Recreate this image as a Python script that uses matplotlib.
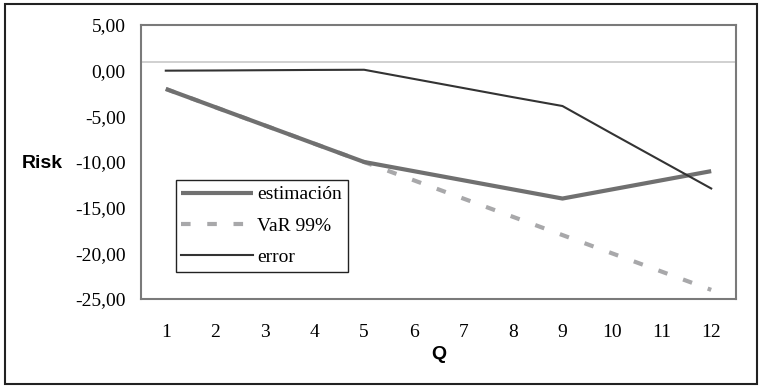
import matplotlib
matplotlib.use("Agg")
import matplotlib.pyplot as plt
from matplotlib.patches import Rectangle

# Data
Q = [1, 2, 3, 4, 5, 6, 7, 8, 9, 10, 11, 12]
estimacion = [-2, -4, -6, -8, -10, -11, -12, -13, -14, -13, -12, -11]
var99 = [-2, -4, -6, -8, -10, -12, -14, -16, -18, -20, -22, -24]
error = [0.0, 0.02, 0.05, 0.08, 0.1, -0.9, -1.9, -2.9, -3.87, -6.9, -9.9, -12.9]
yticks = [5, 0, -5, -10, -15, -20, -25]
ref_line = 1.0

W, H = 759, 386
fig = plt.figure(figsize=(W / 100, H / 100), dpi=100)
ax = fig.add_axes([141 / W, 1 - 299 / H, (736 - 141) / W, (299 - 25) / H])

serif = "Liberation Serif"
sans = "Liberation Sans"
fs = 14

ax.axhline(ref_line, color="#c8c8c8", lw=1.2, zorder=1)
ax.plot(Q, estimacion, color="#707070", lw=3.0, solid_capstyle="butt", label="estimación", zorder=3)
ax.plot(Q, var99, color="#a8a8aa", lw=3.0, dashes=(2.3, 4.0), label="VaR 99%", zorder=2)
ax.plot(Q, error, color="#333333", lw=1.5, label="error", zorder=4)

ax.set_xlim(0.5, 12.5)
ax.set_ylim(-25, 5)
ax.set_xticks(Q)
ax.set_xticklabels([str(q) for q in Q], fontfamily=serif, fontsize=fs)
ax.set_yticks(yticks)
ax.set_yticklabels([f"{v:.2f}".replace(".", ",") for v in yticks], fontfamily=serif, fontsize=fs)
ax.tick_params(axis="both", length=0)
ax.tick_params(axis="y", pad=11)
ax.tick_params(axis="x", pad=18)

for s in ax.spines.values():
    s.set_color("#7a7a7a")
    s.set_linewidth(1.5)

ax.set_ylabel("Risk", rotation=0, fontfamily=sans, fontweight="bold", fontsize=fs, ha="center", va="center")
ax.yaxis.set_label_coords(-0.166, 0.493)
ax.set_xlabel("Q", fontfamily=sans, fontweight="bold", fontsize=fs, ha="center", va="center")
ax.xaxis.set_label_coords(0.5, -0.204)

leg = ax.legend(loc="lower left", bbox_to_anchor=(0.058, 0.0996), borderaxespad=0,
                prop={"family": serif, "size": fs}, handlelength=3.7, handletextpad=0.2,
                labelspacing=0.7, borderpad=0.3, fancybox=False, framealpha=1)
leg.get_frame().set_edgecolor("#222222")
leg.get_frame().set_linewidth(1.0)

fig.patches.append(Rectangle((5 / W, 1 - 384 / H), (757 - 5) / W, (384 - 4) / H,
                             transform=fig.transFigure, fill=False, edgecolor="#222222", lw=1.5))

fig.savefig("out.png", dpi=100)
